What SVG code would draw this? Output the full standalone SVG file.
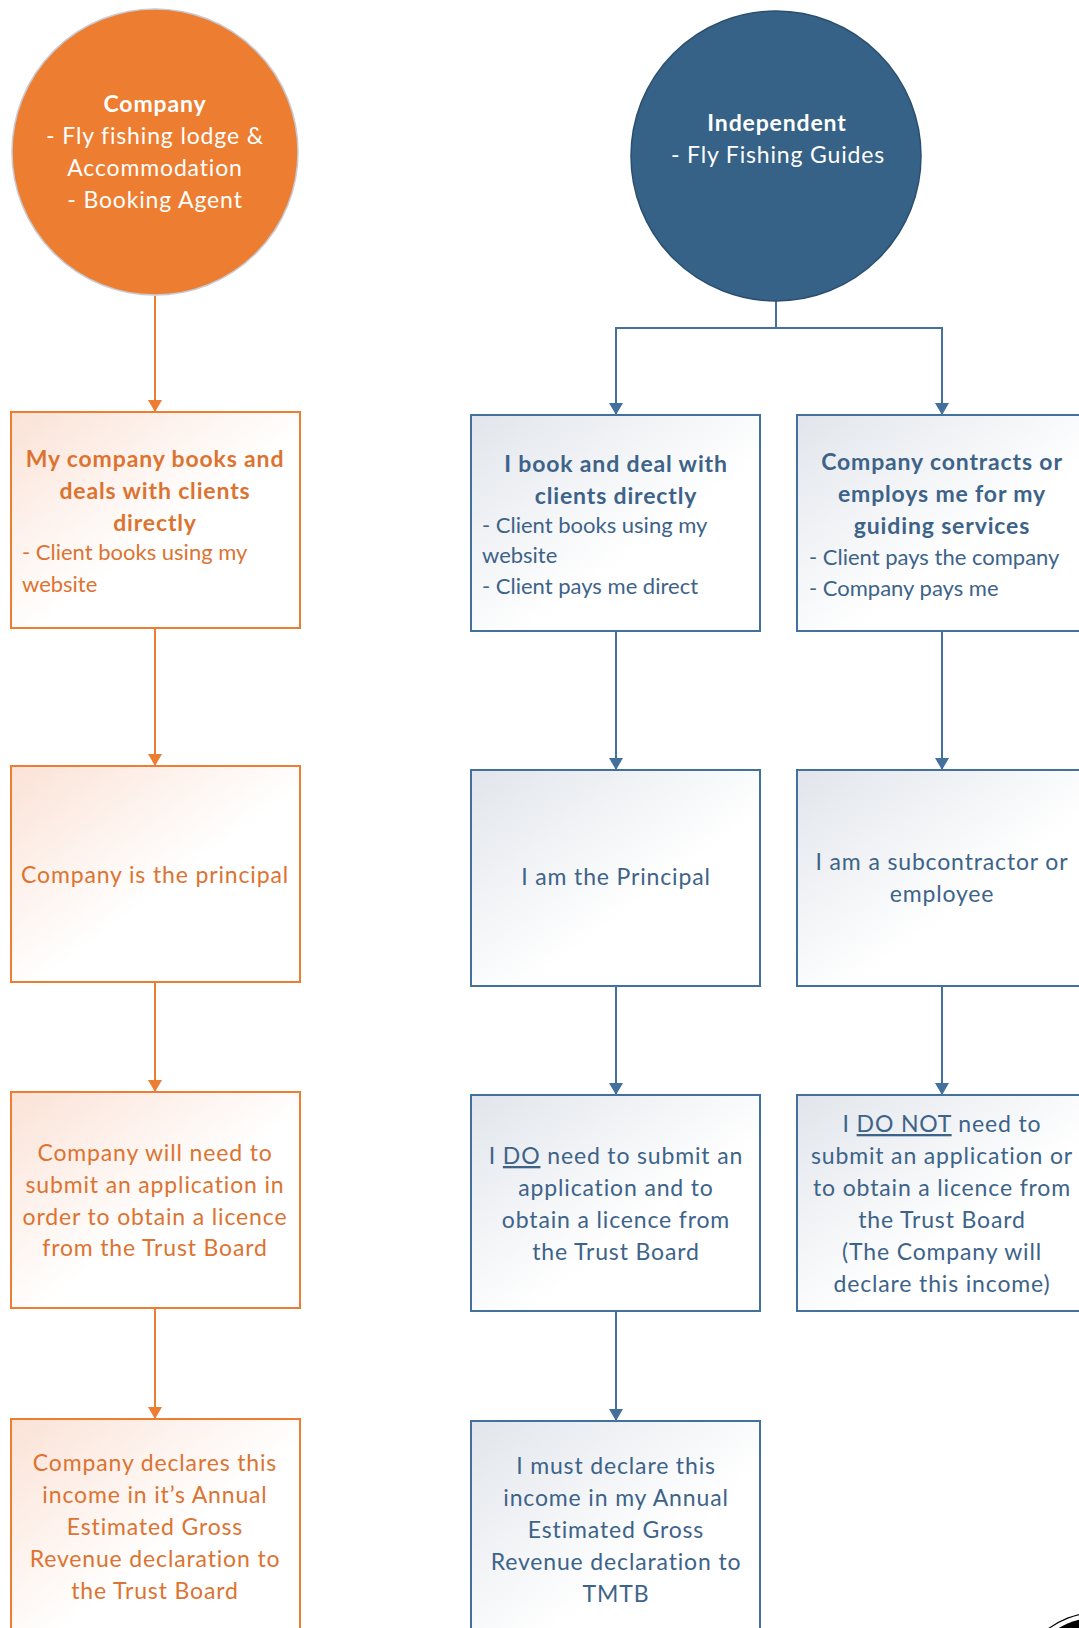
<svg xmlns="http://www.w3.org/2000/svg" width="1079" height="1628" viewBox="0 0 1079 1628">
<style>
.t{font-family:Lato,"Open Sans","Liberation Sans",sans-serif;font-size:23px;letter-spacing:0.85px}
.s{font-size:22px;letter-spacing:0}
.b{font-weight:bold}
.ow{fill:#ffffff}
.ot{fill:#DD7330}
.bt{fill:#3D6389}
.obox{fill:url(#og);stroke:#ED7D31;stroke-width:2}
.bbox{fill:url(#bg);stroke:#41719C;stroke-width:2}
.oc{stroke:#ED7D31;stroke-width:2;fill:none;marker-end:url(#oa)}
.bc{stroke:#41719C;stroke-width:2;fill:none}
.bca{stroke:#41719C;stroke-width:2;fill:none;marker-end:url(#ba)}
</style>
<defs>
<linearGradient id="og" x1="0" y1="0" x2="1" y2="1">
<stop offset="0" stop-color="#FBE2D6"/>
<stop offset="0.55" stop-color="#FFFFFF"/>
</linearGradient>
<linearGradient id="bg" x1="0" y1="0" x2="1" y2="1">
<stop offset="0" stop-color="#E1E5EB"/>
<stop offset="0.6" stop-color="#FFFFFF"/>
</linearGradient>
<marker id="oa" markerUnits="userSpaceOnUse" markerWidth="14" markerHeight="14" refX="12" refY="7" orient="auto">
<path d="M0,0 L12,7 L0,14 Z" fill="#ED7D31"/>
</marker>
<marker id="ba" markerUnits="userSpaceOnUse" markerWidth="14" markerHeight="14" refX="12" refY="7" orient="auto">
<path d="M0,0 L12,7 L0,14 Z" fill="#41719C"/>
</marker>
</defs>
<rect width="1079" height="1628" fill="#ffffff"/>

<g id="connectors">
<line class="oc" x1="155" y1="296" x2="155" y2="412"/>
<line class="oc" x1="155" y1="628" x2="155" y2="766"/>
<line class="oc" x1="155" y1="982" x2="155" y2="1092"/>
<line class="oc" x1="155" y1="1308" x2="155" y2="1419"/>
<polyline class="bc" points="776,301 776,328"/>
<polyline class="bca" points="776,328 616,328 616,415"/>
<polyline class="bca" points="776,328 942,328 942,415"/>
<line class="bca" x1="616" y1="631" x2="616" y2="770"/>
<line class="bca" x1="616" y1="986" x2="616" y2="1095"/>
<line class="bca" x1="616" y1="1311" x2="616" y2="1421"/>
<line class="bca" x1="942" y1="631" x2="942" y2="770"/>
<line class="bca" x1="942" y1="986" x2="942" y2="1095"/>
</g>

<g id="company">
<circle cx="155" cy="152" r="143" fill="#ED7D31" stroke="#C9C9CF" stroke-width="1.5"/>
<text class="t ow" text-anchor="middle"><tspan class="b" x="155" y="112">Company</tspan><tspan x="155" y="144">- Fly fishing lodge &amp;</tspan><tspan x="155" y="176">Accommodation</tspan><tspan x="155" y="208">- Booking Agent</tspan></text>
</g>

<g id="independent">
<circle cx="776" cy="156" r="145" fill="#366287" stroke="#2B4F70" stroke-width="1.5"/>
<text class="t ow" text-anchor="middle"><tspan class="b" x="777" y="131">Independent</tspan><tspan x="778" y="163">- Fly Fishing Guides</tspan></text>
</g>

<g id="o1">
<rect class="obox" x="11" y="412" width="289" height="216"/>
<text class="t ot b" text-anchor="middle"><tspan x="155" y="467">My company books and</tspan><tspan x="155" y="499">deals with clients</tspan><tspan x="155" y="531">directly</tspan></text>
<text class="t s ot"><tspan x="22" y="560">- Client books using my</tspan><tspan x="22" y="592">website</tspan></text>
</g>

<g id="o2">
<rect class="obox" x="11" y="766" width="289" height="216"/>
<text class="t ot" text-anchor="middle" x="155" y="883">Company is the principal</text>
</g>

<g id="o3">
<rect class="obox" x="11" y="1092" width="289" height="216"/>
<text class="t ot" text-anchor="middle"><tspan x="155" y="1161">Company will need to</tspan><tspan x="155" y="1193">submit an application in</tspan><tspan x="155" y="1225">order to obtain a licence</tspan><tspan x="155" y="1256">from the Trust Board</tspan></text>
</g>

<g id="o4">
<rect class="obox" x="11" y="1419" width="289" height="230"/>
<text class="t ot" text-anchor="middle"><tspan x="155" y="1471">Company declares this</tspan><tspan x="155" y="1503">income in it’s Annual</tspan><tspan x="155" y="1535">Estimated Gross</tspan><tspan x="155" y="1567">Revenue declaration to</tspan><tspan x="155" y="1599">the Trust Board</tspan></text>
</g>

<g id="b1">
<rect class="bbox" x="471" y="415" width="289" height="216"/>
<text class="t bt b" text-anchor="middle"><tspan x="616" y="472">I book and deal with</tspan><tspan x="616" y="504">clients directly</tspan></text>
<text class="t s bt"><tspan x="482" y="533">- Client books using my</tspan><tspan x="482" y="563">website</tspan><tspan x="482" y="594">- Client pays me direct</tspan></text>
</g>

<g id="b2">
<rect class="bbox" x="797" y="415" width="290" height="216"/>
<text class="t bt b" text-anchor="middle"><tspan x="942" y="470">Company contracts or</tspan><tspan x="942" y="502">employs me for my</tspan><tspan x="942" y="534">guiding services</tspan></text>
<text class="t s bt"><tspan x="809" y="565">- Client pays the company</tspan><tspan x="809" y="596">- Company pays me</tspan></text>
</g>

<g id="b3">
<rect class="bbox" x="471" y="770" width="289" height="216"/>
<text class="t bt" text-anchor="middle" x="616" y="885">I am the Principal</text>
</g>

<g id="b4">
<rect class="bbox" x="797" y="770" width="290" height="216"/>
<text class="t bt" text-anchor="middle"><tspan x="942" y="870">I am a subcontractor or</tspan><tspan x="942" y="902">employee</tspan></text>
</g>

<g id="b5">
<rect class="bbox" x="471" y="1095" width="289" height="216"/>
<text class="t bt" text-anchor="middle"><tspan x="616" y="1164">I <tspan text-decoration="underline">DO</tspan> need to submit an</tspan><tspan x="616" y="1196">application and to</tspan><tspan x="616" y="1228">obtain a licence from</tspan><tspan x="616" y="1260">the Trust Board</tspan></text>
</g>

<g id="b6">
<rect class="bbox" x="797" y="1095" width="290" height="216"/>
<text class="t bt" text-anchor="middle"><tspan x="942" y="1132">I <tspan text-decoration="underline">DO NOT</tspan> need to</tspan><tspan x="942" y="1164">submit an application or</tspan><tspan x="942" y="1196">to obtain a licence from</tspan><tspan x="942" y="1228">the Trust Board</tspan><tspan x="942" y="1260">(The Company will</tspan><tspan x="942" y="1292">declare this income)</tspan></text>
</g>

<g id="b7">
<rect class="bbox" x="471" y="1421" width="289" height="230"/>
<text class="t bt" text-anchor="middle"><tspan x="616" y="1474">I must declare this</tspan><tspan x="616" y="1506">income in my Annual</tspan><tspan x="616" y="1538">Estimated Gross</tspan><tspan x="616" y="1570">Revenue declaration to</tspan><tspan x="616" y="1602">TMTB</tspan></text>
</g>

<g id="logo">
<circle cx="1100" cy="1700" r="88" fill="none" stroke="#000000" stroke-width="1.2"/>
<circle cx="1100" cy="1700" r="83" fill="#000000"/>
</g>
</svg>
